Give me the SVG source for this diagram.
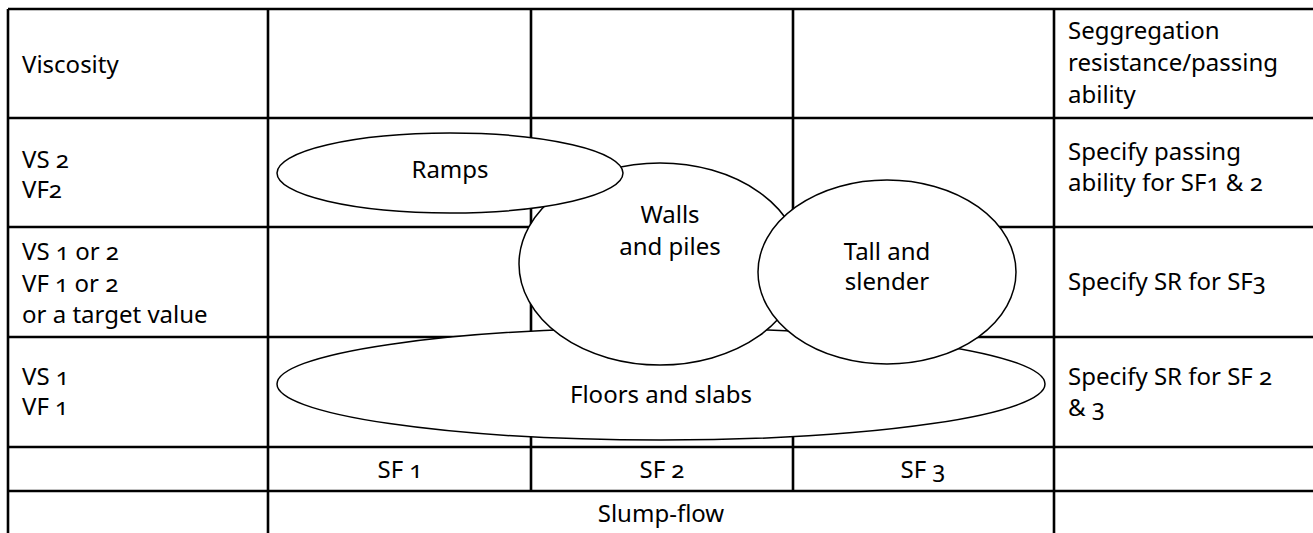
<svg xmlns="http://www.w3.org/2000/svg" width="1313" height="533" viewBox="0 0 1313 533">
  <style>
    .grid { stroke: #000; stroke-width: 2.6; fill: none; }
    .blob { fill: #fff; stroke: #000; stroke-width: 1.5; }
    text { font-family: "Noto Sans", "Open Sans", sans-serif; font-size: 24px; fill: #000; font-variant-numeric: oldstyle-nums; }
    .c { text-anchor: middle; }
  </style>
  <rect width="1313" height="533" fill="#fff"/>

  <!-- table grid -->
  <g id="grid" class="grid">
    <line x1="8" y1="9" x2="1313" y2="9"/>
    <line x1="8" y1="118" x2="1313" y2="118"/>
    <line x1="8" y1="227" x2="1313" y2="227"/>
    <line x1="8" y1="337" x2="1313" y2="337"/>
    <line x1="8" y1="447" x2="1313" y2="447"/>
    <line x1="8" y1="491" x2="1313" y2="491"/>
    <line x1="8" y1="9" x2="8" y2="533"/>
    <line x1="268" y1="9" x2="268" y2="533"/>
    <line x1="531" y1="9" x2="531" y2="491"/>
    <line x1="793" y1="9" x2="793" y2="491"/>
    <line x1="1054" y1="9" x2="1054" y2="533"/>
  </g>

  <!-- row and column headings -->
  <g id="labels">
    <text x="22" y="73">Viscosity</text>
    <text x="22" y="168">VS 2</text>
    <text x="22" y="198">VF2</text>
    <text x="22" y="260">VS 1 or 2</text>
    <text x="22" y="292">VF 1 or 2</text>
    <text x="22" y="323">or a target value</text>
    <text x="22" y="385">VS 1</text>
    <text x="22" y="415">VF 1</text>
    <text x="1068" y="39">Seggregation</text>
    <text x="1068" y="71">resistance/passing</text>
    <text x="1068" y="103">ability</text>
    <text x="1068" y="160">Specify passing</text>
    <text x="1068" y="191">ability for SF1 &amp; 2</text>
    <text x="1068" y="290">Specify SR for SF3</text>
    <text x="1068" y="385">Specify SR for SF 2</text>
    <text x="1068" y="416">&amp; 3</text>
    <text class="c" x="400" y="478">SF 1</text>
    <text class="c" x="662" y="478">SF 2</text>
    <text class="c" x="923" y="478">SF 3</text>
    <text class="c" x="661" y="522">Slump-flow</text>
  </g>

  <!-- application zones -->
  <g id="floors">
    <ellipse class="blob" cx="661" cy="384" rx="384" ry="56"/>
    <text class="c" x="661" y="403">Floors and slabs</text>
  </g>
  <g id="walls">
    <ellipse class="blob" cx="660" cy="264" rx="141" ry="101"/>
    <text class="c" x="670" y="223">Walls</text>
    <text class="c" x="670" y="255">and piles</text>
  </g>
  <g id="tall">
    <ellipse class="blob" cx="887" cy="272" rx="129" ry="92"/>
    <text class="c" x="887" y="260">Tall and</text>
    <text class="c" x="887" y="290">slender</text>
  </g>
  <g id="ramps">
    <ellipse class="blob" cx="450" cy="173" rx="173" ry="40"/>
    <text class="c" x="450" y="178">Ramps</text>
  </g>
</svg>
